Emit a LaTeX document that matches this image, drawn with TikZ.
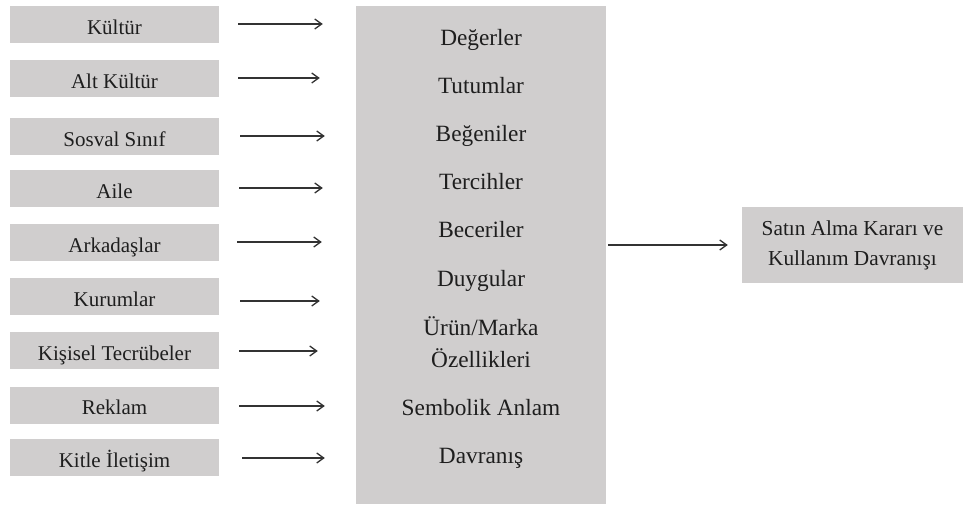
\documentclass[tikz,border=0pt]{standalone}
\usepackage{fontspec}
\setmainfont{Liberation Serif}
\usetikzlibrary{arrows.meta}
\definecolor{boxgray}{RGB}{208,206,206}
\definecolor{inkgray}{RGB}{30,30,30}
\definecolor{linegray}{RGB}{50,50,50}
\begin{document}
\begin{tikzpicture}[x=1pt,y=-1pt,
  factor/.style={fill=boxgray, inner sep=0pt, minimum width=209pt, minimum height=37pt,
                 text height=21.5pt, text depth=2pt,
                 text=inkgray, font=\fontsize{21}{24}\selectfont},
  core/.style={fill=boxgray, inner sep=0pt, minimum width=250pt, minimum height=498pt},
  item/.style={anchor=base, text=inkgray, font=\fontsize{23.3}{27}\selectfont, inner sep=0pt},
  result/.style={fill=boxgray, inner sep=0pt, minimum width=221pt, minimum height=76pt,
                 align=center, text=inkgray, font=\fontsize{21.3}{30}\selectfont},
  flow/.style={draw=linegray, line width=1.3pt, -{Straight Barb[length=7pt,width=10pt]}}]
\useasboundingbox (0,0) rectangle (966,510);

% central box with its list of items
\node[core] (mid) at (481,255) {};
\node[item] (i1) at (481,46) {Değerler};
\node[item] (i2) at (481,94) {Tutumlar};
\node[item] (i3) at (481,142) {Beğeniler};
\node[item] (i4) at (481,190) {Tercihler};
\node[item] (i5) at (481,238) {Beceriler};
\node[item] (i6) at (481,287) {Duygular};
\node[item] (i7) at (481,336) {Ürün/Marka};
\node[item] (i8) at (481,367) {Özellikleri};
\node[item] (i9) at (481,415) {Sembolik Anlam};
\node[item] (i10) at (481,463) {Davranış};

% influencing factors on the left
\node[factor] (f1) at (114.5,24.5) {Kültür};
\node[factor] (f2) at (114.5,79) {Alt Kültür};
\node[factor] (f3) at (114.5,136.5) {Sosval Sınıf};
\node[factor] (f4) at (114.5,189) {Aile};
\node[factor] (f5) at (114.5,243) {Arkadaşlar};
\node[factor] (f6) at (114.5,297) {Kurumlar};
\node[factor] (f7) at (114.5,350.5) {Kişisel Tecrübeler};
\node[factor] (f8) at (114.5,405) {Reklam};
\node[factor] (f9) at (114.5,457.5) {Kitle İletişim};

% outcome
\node[result] (out) at (852.5,245) {Satın Alma Kararı ve\\Kullanım Davranışı};

% arrows from each factor towards the central box
\foreach \f/\y/\s/\e in {f1/24/19/33, f2/78/19/36, f3/136/21/31, f4/188/20/33,
                         f5/242/18/34, f6/301/21/36, f7/351/20/38, f8/406/20/31, f9/458/23/31}{
  \coordinate (a\f) at (219,\y);
  \draw[flow, shorten <=\s pt, shorten >=\e pt] (a\f) -- (a\f -| mid.west);
}

% arrow from the central box to the outcome
\coordinate (m) at (mid.east |- out.west);
\draw[flow, shorten <=2pt, shorten >=14pt] (m) -- (out.west);
\end{tikzpicture}
\end{document}
